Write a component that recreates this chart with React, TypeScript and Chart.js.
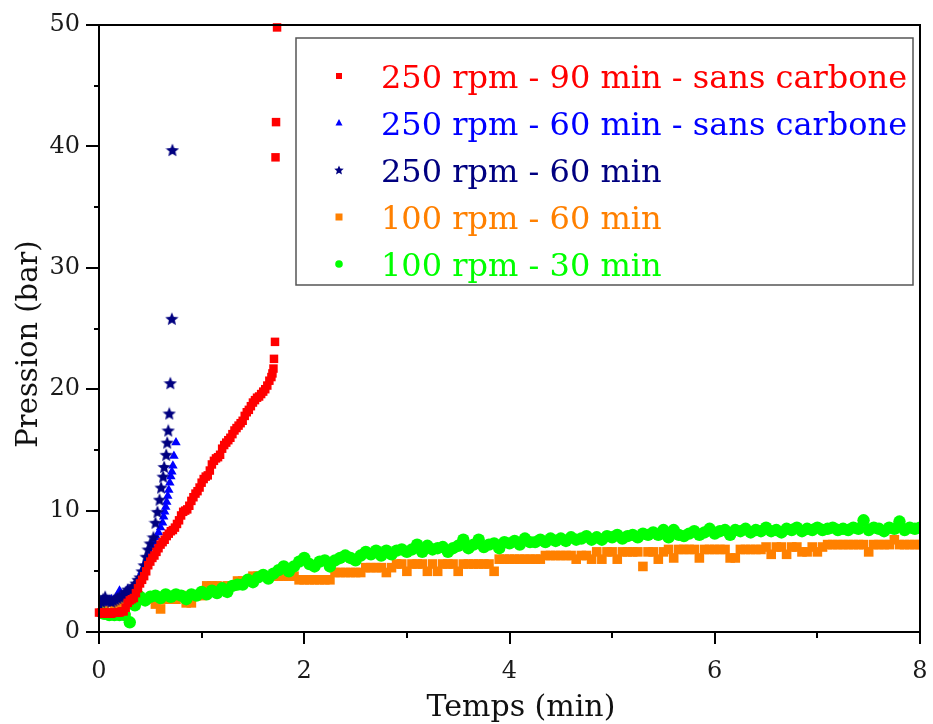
import React, { useEffect, useRef } from 'react';
import { Chart, registerables } from 'chart.js';

Chart.register(...registerables);

// ---------- DATA ----------
const seriesLabels = [
  '250 rpm - 90 min - sans carbone',
  '250 rpm - 60 min - sans carbone',
  '250 rpm - 60 min',
  '100 rpm - 60 min',
  '100 rpm - 30 min',
];
const seriesColors = ['#ff0000', '#0000ff', '#000080', '#ff8000', '#00ff00'];

const xTickLabels = ['0', '2', '4', '6', '8'];
const yTickLabels = ['0', '10', '20', '30', '40', '50'];
const xTitle = 'Temps (min)';
const yTitle = 'Pression (bar)';

// 250 rpm - 90 min - sans carbone
const redTime = [
  0, 0.02, 0.04, 0.06, 0.08, 0.1, 0.12, 0.14, 0.16, 0.18, 0.2, 0.22, 0.24, 0.26, 0.28, 0.3,
  0.32, 0.34, 0.36, 0.38, 0.4, 0.42, 0.44, 0.46, 0.48, 0.5, 0.52, 0.54, 0.56, 0.58, 0.6,
  0.62, 0.64, 0.66, 0.68, 0.7, 0.72, 0.74, 0.76, 0.78, 0.8, 0.82, 0.84, 0.86, 0.88, 0.9,
  0.92, 0.94, 0.96, 0.98, 1.0, 1.02, 1.04, 1.06, 1.08, 1.1, 1.12, 1.14, 1.16, 1.18, 1.2,
  1.22, 1.24, 1.26, 1.28, 1.3, 1.32, 1.34, 1.36, 1.38, 1.4, 1.42, 1.44, 1.46, 1.48, 1.5,
  1.52, 1.54, 1.56, 1.58, 1.6, 1.62, 1.64, 1.66, 1.68, 1.69, 1.7, 1.705, 1.715, 1.72, 1.725, 1.735,
];
const redPressure = [
  1.6, 1.6, 1.5, 1.6, 1.6, 1.6, 1.5, 1.6, 1.6, 1.6, 1.6, 1.7, 1.7, 2.0, 2.4, 2.6,
  2.7, 2.8, 3.2, 3.6, 4.0, 4.3, 4.6, 5.0, 5.5, 5.8, 6.1, 6.3, 6.6, 6.9, 7.2,
  7.4, 7.6, 7.9, 8.1, 8.3, 8.4, 8.6, 8.9, 9.2, 9.6, 9.9, 10.0, 10.1, 10.4, 10.8,
  11.1, 11.4, 11.6, 11.9, 12.3, 12.6, 12.8, 12.9, 13.3, 13.8, 14.1, 14.3, 14.4, 14.6, 15.1,
  15.4, 15.6, 15.8, 16.0, 16.3, 16.6, 16.8, 17.0, 17.2, 17.4, 17.8, 18.1, 18.3, 18.6, 18.9,
  19.1, 19.3, 19.4, 19.6, 19.8, 20.0, 20.3, 20.7, 21.0, 21.3, 21.7, 22.5, 23.9, 39.1, 42.0, 49.8,
];

// 250 rpm - 60 min - sans carbone
const blueTime = [
  0, 0.02, 0.04, 0.06, 0.08, 0.1, 0.12, 0.14, 0.16, 0.18, 0.2, 0.22, 0.24, 0.26, 0.28, 0.3,
  0.32, 0.34, 0.36, 0.38, 0.4, 0.42, 0.44, 0.46, 0.48, 0.5, 0.52, 0.54, 0.56, 0.58, 0.6,
  0.62, 0.63, 0.64, 0.65, 0.66, 0.67, 0.68, 0.69, 0.7, 0.71, 0.72, 0.73, 0.75,
];
const bluePressure = [
  2.6, 2.5, 2.6, 2.4, 2.5, 2.6, 2.7, 2.6, 2.8, 3.0, 3.4, 3.0, 3.0, 3.2, 3.5, 3.3,
  3.5, 3.7, 4.0, 4.3, 4.6, 5.0, 5.4, 5.8, 6.2, 6.5, 7.0, 7.4, 7.8, 8.2, 8.6,
  9.0, 9.5, 9.9, 10.3, 10.7, 11.2, 11.7, 12.3, 12.8, 13.2, 13.7, 14.5, 15.6,
];

// 250 rpm - 60 min
const navyTime = [
  0, 0.02, 0.04, 0.06, 0.08, 0.1, 0.12, 0.14, 0.16, 0.18, 0.2, 0.22, 0.24, 0.26, 0.28, 0.3,
  0.32, 0.34, 0.36, 0.38, 0.4, 0.42, 0.44, 0.46, 0.48, 0.5, 0.53, 0.55, 0.57, 0.59, 0.605,
  0.625, 0.635, 0.655, 0.665, 0.675, 0.685, 0.695, 0.71, 0.715,
];
const navyPressure = [
  2.3, 2.5, 2.7, 2.9, 2.6, 2.6, 2.5, 2.6, 2.7, 2.8, 2.9, 3.0, 3.0, 3.3, 3.5, 3.4,
  3.6, 3.8, 4.0, 4.3, 4.5, 5.0, 5.5, 6.2, 6.8, 7.3, 7.8, 9.0, 9.9, 10.9, 11.9,
  12.8, 13.6, 14.6, 15.6, 16.6, 18.0, 20.5, 25.8, 39.7,
];

// shared time base for the two 100 rpm runs
const longTime = [
  0, 0.05, 0.1, 0.15, 0.2, 0.25, 0.3, 0.35, 0.4, 0.45, 0.5, 0.55, 0.6, 0.65, 0.7, 0.75, 0.8, 0.85, 0.9, 0.95,
  1.0, 1.05, 1.1, 1.15, 1.2, 1.25, 1.3, 1.35, 1.4, 1.45, 1.5, 1.55, 1.6, 1.65, 1.7, 1.75, 1.8, 1.85, 1.9, 1.95,
  2.0, 2.05, 2.1, 2.15, 2.2, 2.25, 2.3, 2.35, 2.4, 2.45, 2.5, 2.55, 2.6, 2.65, 2.7, 2.75, 2.8, 2.85, 2.9, 2.95,
  3.0, 3.05, 3.1, 3.15, 3.2, 3.25, 3.3, 3.35, 3.4, 3.45, 3.5, 3.55, 3.6, 3.65, 3.7, 3.75, 3.8, 3.85, 3.9, 3.95,
  4.0, 4.05, 4.1, 4.15, 4.2, 4.25, 4.3, 4.35, 4.4, 4.45, 4.5, 4.55, 4.6, 4.65, 4.7, 4.75, 4.8, 4.85, 4.9, 4.95,
  5.0, 5.05, 5.1, 5.15, 5.2, 5.25, 5.3, 5.35, 5.4, 5.45, 5.5, 5.55, 5.6, 5.65, 5.7, 5.75, 5.8, 5.85, 5.9, 5.95,
  6.0, 6.05, 6.1, 6.15, 6.2, 6.25, 6.3, 6.35, 6.4, 6.45, 6.5, 6.55, 6.6, 6.65, 6.7, 6.75, 6.8, 6.85, 6.9, 6.95,
  7.0, 7.05, 7.1, 7.15, 7.2, 7.25, 7.3, 7.35, 7.4, 7.45, 7.5, 7.55, 7.6, 7.65, 7.7, 7.75, 7.8, 7.85, 7.9, 7.95,
  8.0,
];

// 100 rpm - 60 min
const orangePressure = [
  2.3, 2.3, 2.5, 2.3, 2.3, 2.3, 2.3, 2.7, 2.7, 2.7, 2.7, 2.3, 1.9, 2.7, 2.7, 2.7, 3.0, 2.4, 2.4, 3.0,
  3.0, 3.8, 3.8, 3.8, 3.4, 3.8, 3.8, 4.2, 4.2, 4.2, 4.6, 4.6, 4.6, 4.6, 4.6, 4.6, 4.6, 4.6, 4.6, 4.3,
  4.3, 4.3, 4.3, 4.3, 4.3, 4.3, 4.9, 4.9, 4.9, 4.9, 4.9, 4.9, 5.3, 5.3, 5.3, 5.3, 4.9, 5.3, 5.6, 5.6,
  5.0, 5.6, 5.6, 5.6, 5.0, 5.6, 5.0, 5.6, 5.6, 5.6, 5.0, 5.6, 5.6, 5.6, 5.6, 5.6, 5.6, 5.0, 6.0, 6.0,
  6.0, 6.0, 6.0, 6.0, 6.0, 6.0, 6.0, 6.3, 6.3, 6.3, 6.3, 6.3, 6.3, 6.0, 6.3, 6.3, 6.0, 6.6, 6.0, 6.6,
  6.6, 6.0, 6.6, 6.6, 6.6, 6.6, 5.4, 6.6, 6.6, 6.0, 6.6, 6.8, 6.1, 6.8, 6.8, 6.8, 6.8, 6.1, 6.8, 6.8,
  6.8, 6.8, 6.8, 6.1, 6.1, 6.8, 6.8, 6.8, 6.8, 6.8, 7.0, 6.4, 7.0, 7.0, 6.4, 7.0, 7.0, 6.6, 6.6, 7.0,
  6.6, 7.0, 7.2, 7.2, 7.2, 7.2, 7.2, 7.2, 7.2, 7.2, 6.6, 7.2, 7.2, 7.2, 7.2, 7.6, 7.2, 7.2, 7.2, 7.2,
  7.2,
];

// 100 rpm - 30 min
const greenPressure = [
  2.5, 1.5, 1.4, 1.4, 1.4, 1.4, 0.8, 2.2, 2.9, 2.6, 2.9, 3.0, 2.8, 3.1, 2.9, 3.1, 3.0, 2.7, 3.1, 3.0,
  3.3, 3.1, 3.4, 3.2, 3.6, 3.3, 3.8, 3.9, 3.9, 4.3, 4.1, 4.5, 4.7, 4.4, 4.8, 5.1, 5.4, 5.0, 5.4, 5.8,
  6.1, 5.6, 5.4, 5.8, 5.9, 5.4, 5.9, 6.1, 6.3, 6.1, 5.9, 6.3, 6.6, 6.4, 6.7, 6.3, 6.7, 6.4, 6.7, 6.8,
  6.6, 6.8, 7.2, 6.6, 7.1, 6.8, 6.9, 7.0, 6.6, 6.9, 7.1, 7.6, 6.9, 7.2, 7.6, 7.0, 7.2, 7.3, 6.9, 7.4,
  7.3, 7.5, 7.2, 7.7, 7.4, 7.4, 7.6, 7.4, 7.7, 7.5, 7.7, 7.5, 7.8, 7.6, 7.7, 7.9, 7.6, 7.8, 7.6, 7.9,
  7.8, 8.0, 7.7, 7.9, 8.0, 7.8, 8.1, 8.0, 8.2, 8.0, 8.4, 7.8, 8.4, 8.0, 7.9, 8.1, 8.3, 8.0, 8.2, 8.5,
  8.1, 8.3, 8.4, 8.0, 8.4, 8.3, 8.5, 8.2, 8.4, 8.3, 8.6, 8.3, 8.4, 8.2, 8.5, 8.4, 8.6, 8.3, 8.5, 8.4,
  8.6, 8.4, 8.5, 8.6, 8.4, 8.5, 8.4, 8.6, 8.5, 9.2, 8.4, 8.6, 8.5, 8.3, 8.6, 8.5, 9.1, 8.4, 8.6, 8.5,
  8.6,
];

// ---------- HELPERS ----------
const FONT = '"DejaVu Serif", "Liberation Serif", serif';

function toPoints(xs: number[], ys: number[]) {
  return xs.map((x, i) => ({ x, y: ys[i] }));
}

function makeStar(size: number, color: string): HTMLCanvasElement {
  const c = document.createElement('canvas');
  c.width = size;
  c.height = size;
  const g = c.getContext('2d')!;
  const cx = size / 2;
  const cy = size / 2 + size * 0.04;
  const R = size / 2;
  const r = R * 0.45;
  g.beginPath();
  for (let i = 0; i < 10; i++) {
    const ang = -Math.PI / 2 + (i * Math.PI) / 5;
    const rad = i % 2 === 0 ? R : r;
    const px = cx + Math.cos(ang) * rad;
    const py = cy + Math.sin(ang) * rad;
    if (i === 0) g.moveTo(px, py);
    else g.lineTo(px, py);
  }
  g.closePath();
  g.fillStyle = color;
  g.fill();
  return c;
}

const framePlugin = {
  id: 'frameAndLegend',
  afterDraw(chart: any) {
    const { ctx, chartArea: a, scales } = chart;
    const xs = scales.x;
    const ys = scales.y;
    ctx.save();
    // frame
    ctx.strokeStyle = '#000';
    ctx.lineWidth = 2;
    ctx.strokeRect(a.left, a.top, a.right - a.left, a.bottom - a.top);
    // ticks
    ctx.beginPath();
    for (let v = 0; v <= 8; v += 1) {
      const px = Math.round(xs.getPixelForValue(v));
      const len = v % 2 === 0 ? 12 : 6;
      ctx.moveTo(px, a.bottom);
      ctx.lineTo(px, a.bottom + len);
    }
    for (let v = 0; v <= 50; v += 5) {
      const py = Math.round(ys.getPixelForValue(v));
      const len = v % 10 === 0 ? 13 : 5;
      ctx.moveTo(a.left, py);
      ctx.lineTo(a.left - len, py);
    }
    ctx.stroke();

    // axis titles
    ctx.fillStyle = '#111';
    ctx.font = `30px ${FONT}`;
    ctx.textAlign = 'center';
    ctx.textBaseline = 'alphabetic';
    ctx.fillText(xTitle, 521, 716);
    ctx.save();
    ctx.translate(37, 344);
    ctx.rotate(-Math.PI / 2);
    ctx.font = `29px ${FONT}`;
    ctx.fillText(yTitle, 0, 0);
    ctx.restore();

    // legend box
    const bx = 296, by = 38, bw = 617, bh = 247;
    ctx.fillStyle = '#fff';
    ctx.fillRect(bx, by, bw, bh);
    ctx.strokeStyle = '#555';
    ctx.lineWidth = 1.5;
    ctx.strokeRect(bx, by, bw, bh);

    const rows = [76, 123, 170, 217, 264];
    const ds = chart.data.datasets;
    ds.forEach((d: any, i: number) => {
      const cy = rows[i];
      const mx = 339;
      ctx.fillStyle = d.backgroundColor;
      const st = d.pointStyle;
      if (st === 'rect') {
        const s = i === 0 ? 6 : 7;
        ctx.fillRect(mx - s / 2, cy - s / 2, s, s);
      } else if (st === 'triangle') {
        ctx.beginPath();
        ctx.moveTo(mx, cy - 4);
        ctx.lineTo(mx + 3.5, cy + 2.5);
        ctx.lineTo(mx - 3.5, cy + 2.5);
        ctx.closePath();
        ctx.fill();
      } else if (st === 'circle') {
        ctx.beginPath();
        ctx.arc(mx, cy, 3.8, 0, Math.PI * 2);
        ctx.fill();
      } else {
        const img = d.legendImage as HTMLCanvasElement;
        ctx.drawImage(img, mx - img.width / 2, cy - img.height / 2);
      }
      ctx.fillStyle = d.backgroundColor;
      ctx.font = `32px ${FONT}`;
      ctx.textAlign = 'left';
      ctx.textBaseline = 'alphabetic';
      ctx.fillText(d.label, 381, cy + 12);
    });
    ctx.restore();
  },
};

function zeroPad(s: any) {
  s.paddingLeft = 0;
  s.paddingRight = 0;
  s.paddingTop = 0;
  s.paddingBottom = 0;
}

export default function App() {
  const ref = useRef<HTMLCanvasElement | null>(null);

  useEffect(() => {
    if (!ref.current) return;
    const starPoint = makeStar(14, seriesColors[2]);
    const starLegend = makeStar(10, seriesColors[2]);

    const chart = new Chart(ref.current, {
      type: 'scatter',
      data: {
        datasets: [
          {
            label: seriesLabels[0],
            data: toPoints(redTime, redPressure),
            backgroundColor: seriesColors[0],
            borderColor: seriesColors[0],
            borderWidth: 0,
            pointStyle: 'rect',
            pointRadius: 6,
            order: 0,
            clip: false,
          },
          {
            label: seriesLabels[1],
            data: toPoints(blueTime, bluePressure),
            backgroundColor: seriesColors[1],
            borderColor: seriesColors[1],
            borderWidth: 0,
            pointStyle: 'triangle',
            pointRadius: 5.5,
            order: 2,
          },
          {
            label: seriesLabels[2],
            data: toPoints(navyTime, navyPressure),
            backgroundColor: seriesColors[2],
            borderColor: seriesColors[2],
            borderWidth: 0,
            pointStyle: starPoint,
            legendImage: starLegend,
            pointRadius: 7,
            order: 1,
          } as any,
          {
            label: seriesLabels[3],
            data: toPoints(longTime, orangePressure),
            backgroundColor: seriesColors[3],
            borderColor: seriesColors[3],
            borderWidth: 0,
            pointStyle: 'rect',
            pointRadius: 6.8,
            order: 4,
          },
          {
            label: seriesLabels[4],
            data: toPoints(longTime, greenPressure),
            backgroundColor: seriesColors[4],
            borderColor: seriesColors[4],
            borderWidth: 0,
            pointStyle: 'circle',
            pointRadius: 6.2,
            order: 3,
          },
        ],
      },
      options: {
        responsive: false,
        animation: false,
        events: [],
        layout: { padding: { left: 0, top: 25, right: 13, bottom: 0 } },
        plugins: {
          legend: { display: false },
          tooltip: { enabled: false },
        },
        scales: {
          x: {
            type: 'linear',
            min: 0,
            max: 8,
            grid: { display: false, drawTicks: false, tickLength: 0 },
            border: { display: false },
            ticks: {
              stepSize: 2,
              padding: 25,
              color: '#1a1a1a',
              font: { family: FONT, size: 24 },
              maxRotation: 0,
              callback: (v: any) => {
                const i = xTickLabels.indexOf(String(v));
                return i >= 0 ? xTickLabels[i] : '';
              },
            },
            afterFit: (s: any) => {
              s.height = 92;
              zeroPad(s);
            },
          },
          y: {
            type: 'linear',
            min: 0,
            max: 50,
            grid: { display: false, drawTicks: false, tickLength: 0 },
            border: { display: false },
            ticks: {
              stepSize: 10,
              padding: 19,
              color: '#1a1a1a',
              font: { family: FONT, size: 24 },
              callback: (v: any) => {
                const i = yTickLabels.indexOf(String(v));
                return i >= 0 ? yTickLabels[i] : '';
              },
            },
            afterFit: (s: any) => {
              s.width = 99;
              zeroPad(s);
            },
          },
        },
      },
      plugins: [framePlugin],
    } as any);

    return () => chart.destroy();
  }, []);

  return (
    <div style={{ position: 'absolute', left: 0, top: 0, width: 933, height: 724, background: '#fff' }}>
      <canvas ref={ref} width={933} height={724} style={{ display: 'block' }} />
    </div>
  );
}
